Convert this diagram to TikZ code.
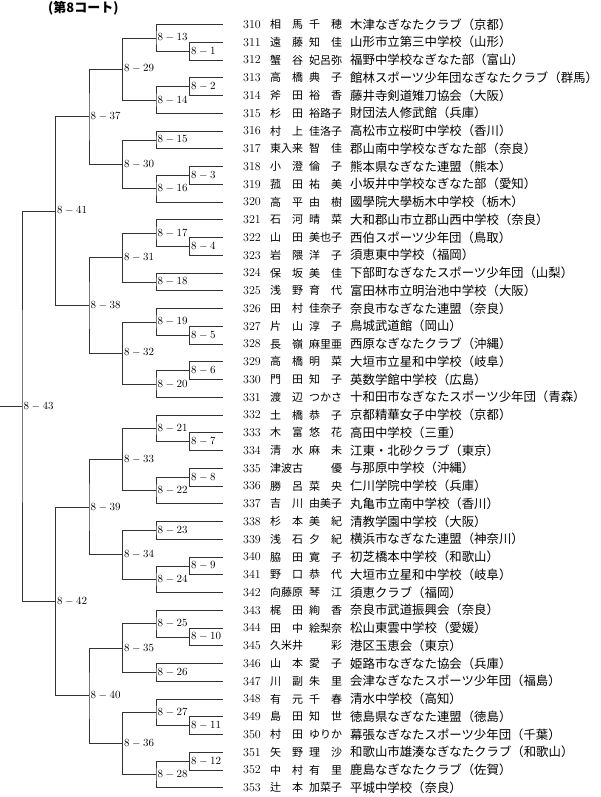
\documentclass[tikz,border=0pt]{standalone}
\usepackage{fontspec}
\newfontfamily\jpfont{Noto Sans CJK JP}
\usetikzlibrary{positioning}
\tikzset{
  bracket/.style={draw=black!80, line width=0.6pt},
  matchlbl/.style={inner sep=1.5pt, font=\fontsize{10.5}{12}\selectfont},
  entrynum/.style={anchor=west, inner sep=0pt, font=\fontsize{12}{14}\selectfont},
  entryname/.style={anchor=west, inner sep=0pt, font=\jpfont\fontsize{11}{13}\selectfont},
  entryclub/.style={anchor=west, inner sep=0pt, font=\jpfont\fontsize{12.4}{14}\selectfont},
  courttitle/.style={anchor=west, inner sep=0pt, font=\jpfont\bfseries\fontsize{13}{15}\selectfont}
}

\begin{document}
\begin{tikzpicture}[x=1pt, y=-17.75pt]
\useasboundingbox (0,-1.3803) rectangle (600,43.5211);

% title
\node[courttitle] (title) at (48,-0.913) {(第8コート)};

% entries, one row each
\foreach \i/\sur/\giv/\club in {
  0/相\hfill 馬/千\hfill 穂/木津なぎなたクラブ（京都）,
  1/遠\hfill 藤/知\hfill 佳/山形市立第三中学校（山形）,
  2/蟹\hfill 谷/妃呂弥/福野中学校なぎなた部（富山）,
  3/高\hfill 橋/典\hfill 子/館林スポーツ少年団なぎなたクラブ（群馬）,
  4/斧\hfill 田/裕\hfill 香/藤井寺剣道雉刀協会（大阪）,
  5/杉\hfill 田/裕路子/財団法人修武館（兵庫）,
  6/村\hfill 上/佳洛子/高松市立桜町中学校（香川）,
  7/東入来/智\hfill 佳/郡山南中学校なぎなた部（奈良）,
  8/小\hfill 澄/倫\hfill 子/熊本県なぎなた連盟（熊本）,
  9/菰\hfill 田/祐\hfill 美/小坂井中学校なぎなた部（愛知）,
  10/高\hfill 平/由\hfill 樹/國學院大學栃木中学校（栃木）,
  11/石\hfill 河/晴\hfill 菜/大和郡山市立郡山西中学校（奈良）,
  12/山\hfill 田/美也子/西伯スポーツ少年団（鳥取）,
  13/岩\hfill 隈/洋\hfill 子/須恵東中学校（福岡）,
  14/保\hfill 坂/美\hfill 佳/下部町なぎなたスポーツ少年団（山梨）,
  15/浅\hfill 野/育\hfill 代/富田林市立明治池中学校（大阪）,
  16/田\hfill 村/佳奈子/奈良市なぎなた連盟（奈良）,
  17/片\hfill 山/淳\hfill 子/鳥城武道館（岡山）,
  18/長\hfill 嶺/麻里亜/西原なぎなたクラブ（沖縄）,
  19/高\hfill 橋/明\hfill 菜/大垣市立星和中学校（岐阜）,
  20/門\hfill 田/知\hfill 子/英数学館中学校（広島）,
  21/渡\hfill 辺/つかさ/十和田市なぎなたスポーツ少年団（青森）,
  22/土\hfill 橋/恭\hfill 子/京都精華女子中学校（京都）,
  23/木\hfill 富/悠\hfill 花/高田中学校（三重）,
  24/清\hfill 水/麻\hfill 未/江東・北砂クラブ（東京）,
  25/津波古/\hfill 優/与那原中学校（沖縄）,
  26/勝\hfill 呂/菜\hfill 央/仁川学院中学校（兵庫）,
  27/吉\hfill 川/由美子/丸亀市立南中学校（香川）,
  28/杉\hfill 本/美\hfill 紀/清教学園中学校（大阪）,
  29/浅\hfill 石/夕\hfill 紀/横浜市なぎなた連盟（神奈川）,
  30/脇\hfill 田/寛\hfill 子/初芝橋本中学校（和歌山）,
  31/野\hfill 口/恭\hfill 代/大垣市立星和中学校（岐阜）,
  32/向藤原/琴\hfill 江/須恵クラブ（福岡）,
  33/梶\hfill 田/絢\hfill 香/奈良市武道振興会（奈良）,
  34/田\hfill 中/絵梨奈/松山東雲中学校（愛媛）,
  35/久米井/\hfill 彩/港区玉恵会（東京）,
  36/山\hfill 本/愛\hfill 子/姫路市なぎなた協会（兵庫）,
  37/川\hfill 副/朱\hfill 里/会津なぎなたスポーツ少年団（福島）,
  38/有\hfill 元/千\hfill 春/清水中学校（高知）,
  39/島\hfill 田/知\hfill 世/徳島県なぎなた連盟（徳島）,
  40/村\hfill 田/ゆりか/幕張なぎなたスポーツ少年団（千葉）,
  41/矢\hfill 野/理\hfill 沙/和歌山市雄湊なぎなたクラブ（和歌山）,
  42/中\hfill 村/有\hfill 里/鹿島なぎなたクラブ（佐賀）,
  43/辻\hfill 本/加菜子/平城中学校（奈良）%
}{
  \pgfmathtruncatemacro\num{310+\i}
  \coordinate (e\i) at (222.5,\i);
  \node[entrynum] (n\i) at (243,\i) {\num};
  \node[entryname] (s\i) at (270,\i) {\hbox to 33pt{\sur}};
  \node[entryname] (g\i) at (309,\i) {\hbox to 33pt{\giv}};
  \node[entryclub] (c\i) at (350,\i) {\club};
}

% match points: number/column/row
\foreach \id/\c/\r in {
  1/5/1.5, 2/5/3.5, 3/5/8.5, 4/5/12.5, 5/5/17.5, 6/5/19.5,
  7/5/23.5, 8/5/25.5, 9/5/30.5, 10/5/34.5, 11/5/39.5, 12/5/41.5,
  13/4/0.75, 14/4/4.25, 15/4/6.5, 16/4/9.25, 17/4/11.75, 18/4/14.5,
  19/4/16.75, 20/4/20.25, 21/4/22.75, 22/4/26.25, 23/4/28.5, 24/4/31.25,
  25/4/33.75, 26/4/36.5, 27/4/38.75, 28/4/42.25,
  29/3/2.5, 30/3/7.875, 31/3/13.125, 32/3/18.5,
  33/3/24.5, 34/3/29.875, 35/3/35.125, 36/3/40.5,
  37/2/5.1875, 38/2/15.8125, 39/2/27.1875, 40/2/37.8125,
  41/1/10.5, 42/1/32.5,
  43/0/21.5%
}{
  \coordinate (p\id) at (22+33.5*\c,\r);
  \node[matchlbl, right=0pt of p\id] (m\id) {$8-\id$};
}

% bracket lines: match/upper/lower
\foreach \id/\a/\b in {
  1/e1/e2, 2/e3/e4, 3/e8/e9, 4/e12/e13, 5/e17/e18, 6/e19/e20,
  7/e23/e24, 8/e25/e26, 9/e30/e31, 10/e34/e35, 11/e39/e40, 12/e41/e42,
  13/e0/p1, 14/p2/e5, 15/e6/e7, 16/p3/e10, 17/e11/p4, 18/e14/e15,
  19/e16/p5, 20/p6/e21, 21/e22/p7, 22/p8/e27, 23/e28/e29, 24/p9/e32,
  25/e33/p10, 26/e36/e37, 27/e38/p11, 28/p12/e43,
  29/p13/p14, 30/p15/p16, 31/p17/p18, 32/p19/p20,
  33/p21/p22, 34/p23/p24, 35/p25/p26, 36/p27/p28,
  37/p29/p30, 38/p31/p32, 39/p33/p34, 40/p35/p36,
  41/p37/p38, 42/p39/p40,
  43/p41/p42%
}{
  \draw[bracket] (\a) -| (p\id) |- (\b);
}

% final
\coordinate (start) at (0,21.5);
\draw[bracket] (start) -- (p43);

\end{tikzpicture}
\end{document}
